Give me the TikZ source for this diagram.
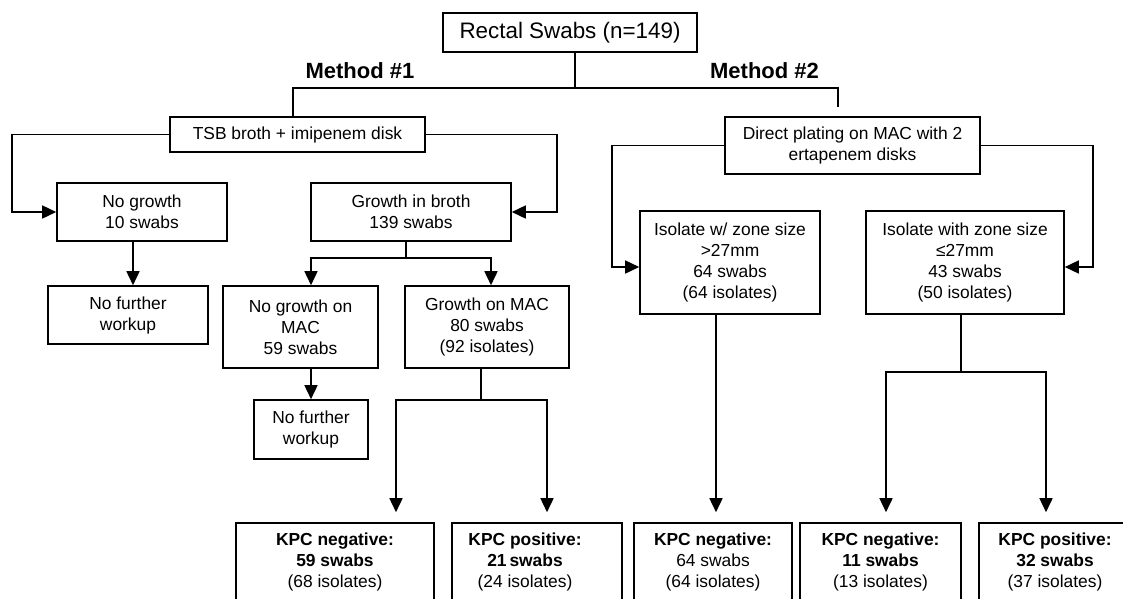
\documentclass[tikz,border=0pt]{standalone}
\usepackage{fontspec}
\setmainfont{Liberation Sans}
\usetikzlibrary{arrows.meta}
\usetikzlibrary{calc}

\begin{document}
\begin{tikzpicture}[x=1pt,y=-1pt,
    boxtext/.style={align=center,font=\fontsize{17.4}{21}\selectfont},
    box/.style={draw,rectangle,line width=1.6pt,inner sep=0pt,boxtext},
    link/.style={draw,line width=1.6pt},
    arr/.style={link,-{Triangle[length=14pt,width=13pt]}},
    gap/.style={shorten >=10pt}]

  \useasboundingbox (0,0) rectangle (1123,598);
  \clip (0,0) rectangle (1123,598);

  \node [box,minimum width=254pt,minimum height=39pt,font=\fontsize{22.4}{27}\selectfont] (swabs) at (570,32.5) {Rectal Swabs (n=149)};
  \node [font=\fontsize{22}{26}\selectfont\bfseries] (meth_1) at (360,70.5) {Method \#1};
  \node [font=\fontsize{22}{26}\selectfont\bfseries] (meth_2) at (764.5,70.5) {Method \#2};

  \node [box,minimum width=255pt,minimum height=35pt] (tsb) at (297.5,134.5) {TSB broth + imipenem disk};
  \node [box,minimum width=255pt,minimum height=57pt] (direct) at (852.5,145.5) {Direct plating on MAC with 2\\ertapenem disks};

  \node [box,minimum width=170pt,minimum height=58pt] (nogrowth) at (142,212) {No growth\\10 swabs};
  \node [box,minimum width=200pt,minimum height=58pt] (broth) at (411,212) {Growth in broth\\139 swabs};
  \node [box,minimum width=160pt,minimum height=58pt] (nfw_a) at (128,315) {No further\\workup};
  \node [box,minimum width=155pt,minimum height=82pt] (nomac) at (300.5,327) {No growth on\\MAC\\59 swabs};
  \node [box,minimum width=164pt,minimum height=82pt] (mac) at (487,327) {Growth on MAC\\80 swabs\\(92 isolates)};
  \node [box,minimum width=114pt,minimum height=59pt] (nfw_b) at (311,429.5) {No further\\workup};

  \node [box,minimum width=180pt,minimum height=103pt] (zone_gt) at (730,262.5) {Isolate w/ zone size\\>27mm\\64 swabs\\(64 isolates)};
  \node [box,minimum width=198pt,minimum height=103pt] (zone_le) at (965,262.5) {Isolate with zone size\\≤27mm\\43 swabs\\(50 isolates)};

  \node [box,minimum width=198pt,minimum height=78pt] (neg_a) at (335,562) {\textbf{KPC negative:}\\\textbf{59 swabs}\\(68 isolates)};
  \node [box,minimum width=170pt,minimum height=78pt,
    label={[boxtext,xshift=-12pt]center:\textbf{KPC positive:}\\\textbf{21\,swabs}\\(24 isolates)}] (pos_a) at (537,562) {};
  \node [box,minimum width=158pt,minimum height=78pt] (neg_b) at (713,562) {\textbf{KPC negative:}\\64 swabs\\(64 isolates)};
  \node [box,minimum width=161pt,minimum height=78pt] (neg_c) at (880.5,562) {\textbf{KPC negative:}\\\textbf{11 swabs}\\(13 isolates)};
  \node [box,minimum width=152pt,minimum height=78pt] (pos_b) at (1055,562) {\textbf{KPC positive:}\\\textbf{32 swabs}\\(37 isolates)};

  \coordinate (split) at (575,88);
  \coordinate (m1_end) at (293,88);
  \coordinate (m2_end) at (838,88);
  \coordinate (m2_stop) at (838,107);
  \coordinate (broth_j) at (406,258);
  \coordinate (mac_j) at (481,400);
  \coordinate (le_j) at (961,372);

  \path [link] (swabs.south -| split) -- (split);
  \path [link] (tsb.north -| m1_end) -- (m1_end) -- (m2_end) -- (m2_stop);

  \path [arr] (tsb.west) -| ([xshift=-44.5pt]nogrowth.west) -- (nogrowth.west);
  \path [arr] (tsb.east) -| ([xshift=45pt]broth.east) -- (broth.east);
  \path [arr] ([xshift=-9pt]nogrowth.south) -- ([xshift=5pt]nfw_a.north);
  \path [link] (broth.south -| broth_j) -- (broth_j);
  \path [arr] (broth_j) -| ([xshift=10.5pt]nomac.north);
  \path [arr] (broth_j) -| ([xshift=4pt]mac.north);
  \path [arr] (nomac.south -| nfw_b.north) -- (nfw_b.north);
  \path [link] (mac.south -| mac_j) -- (mac_j);
  \path [arr,gap] (mac_j) -| ([xshift=61pt]neg_a.north);
  \path [arr,gap] (mac_j) -| ([xshift=10pt]pos_a.north);

  \path [arr] (direct.west) -| ([xshift=-27pt,yshift=-4.5pt]zone_gt.west) -- ([yshift=-4.5pt]zone_gt.west);
  \path [arr] (direct.east) -| ([xshift=28pt,yshift=-4.5pt]zone_le.east) -- ([yshift=-4.5pt]zone_le.east);
  \path [arr,gap] ([xshift=-14pt]zone_gt.south) -- ([xshift=3pt]neg_b.north);
  \path [link] (zone_le.south -| le_j) -- (le_j);
  \path [arr,gap] (le_j) -| ([xshift=5.5pt]neg_c.north);
  \path [arr,gap] (le_j) -| ([xshift=-9pt]pos_b.north);

\end{tikzpicture}
\end{document}
